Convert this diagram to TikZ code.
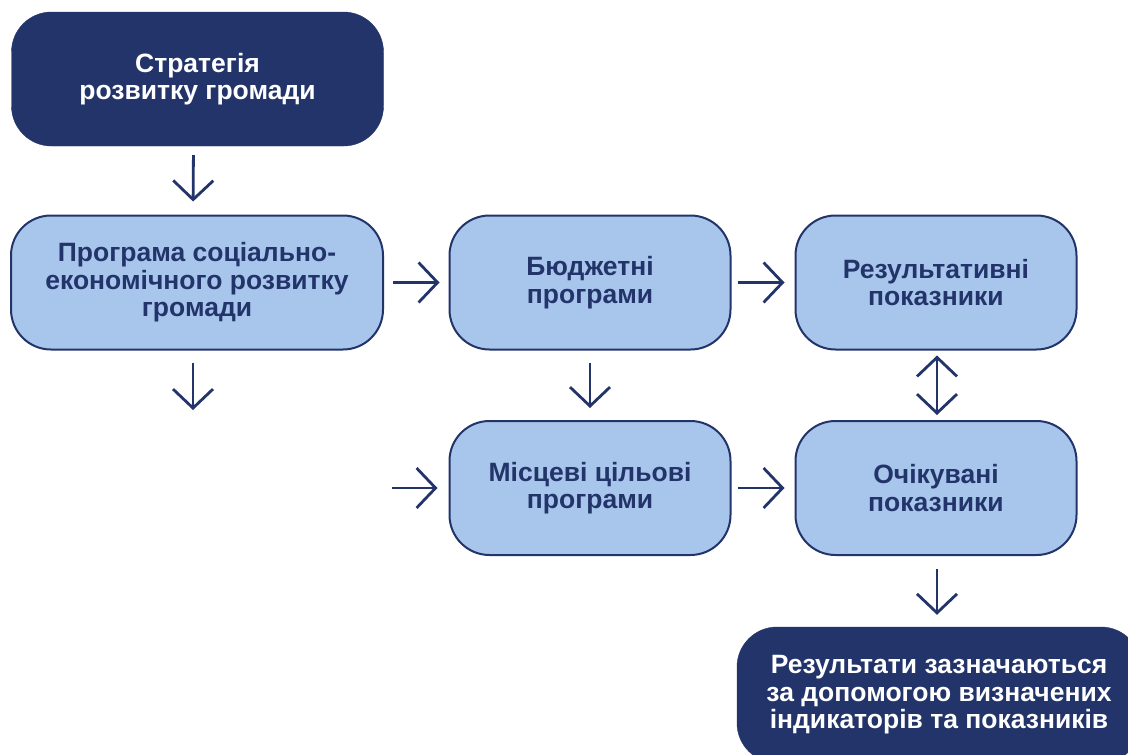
\documentclass[tikz,border=0pt]{standalone}
\usepackage{fontspec}
\setmainfont{Liberation Sans}
\usetikzlibrary{arrows.meta}
\definecolor{navy}{HTML}{22346A}
\definecolor{lightblue}{HTML}{A8C6EC}
\begin{document}
\begin{tikzpicture}[x=1pt,y=-1pt,
  box/.style={rectangle, rounded corners=40pt, minimum width=372pt, minimum height=134pt,
    align=center, inner sep=0pt, font=\fontsize{26.5}{27.5}\selectfont\bfseries},
  darkbox/.style={box, fill=navy, draw=navy, text=white},
  lightbox/.style={box, fill=lightblue, draw=navy, line width=2pt, text=navy},
  narrow/.style={minimum width=281pt},
  arr/.style={draw=navy, line width=2.8pt, -{Straight Barb[length=19pt,width=40pt]}},
  darr/.style={draw=navy, line width=2.8pt, {Straight Barb[length=19pt,width=40pt]}-{Straight Barb[length=19pt,width=40pt]}}
]
\useasboundingbox (0,0) rectangle (1128,755);
\clip (0,0) rectangle (1128,755);
\fill[white] (0,0) rectangle (1128,755);

\node[darkbox] (strat) at (197.5,79) {Стратегія\\розвитку громади};
\node[lightbox] (prog) at (197,282.5) {Програма соціально-\\економічного розвитку\\громади};
\node[lightbox, narrow] (budget) at (590,282.5) {Бюджетні\\програми};
\node[lightbox, narrow] (result) at (936,282.5) {Результативні\\показники};
\node[lightbox, narrow] (local) at (590,488) {Місцеві цільові\\програми};
\node[lightbox, narrow] (expect) at (936,488) {Очікувані\\показники};
\node[darkbox, minimum width=404pt, minimum height=136pt] (final) at (939,695) {Результати зазначаються\\за допомогою визначених\\індикаторів та показників};

\coordinate (progout) at (193,410);
\coordinate (localin) at (392,488);

\draw[arr, shorten <=9pt, shorten >=13pt] ([xshift=-4pt]strat.south) -- ([xshift=-4pt]prog.north);
\draw[arr, shorten <=12pt] ([xshift=-4pt]prog.south) -- (progout);
\draw[arr, shorten <=9pt, shorten >=9pt] (prog.east) -- (budget.west);
\draw[arr, shorten <=6pt, shorten >=10pt] (budget.east) -- (result.west);
\draw[arr, shorten <=12pt, shorten >=12pt] (budget.south) -- (local.north);
\draw[arr, shorten >=11pt] (localin) -- (local.west);
\draw[arr, shorten <=6pt, shorten >=10pt] (local.east) -- (expect.west);
\draw[darr, shorten <=5pt, shorten >=5pt] ([xshift=1pt]result.south) -- ([xshift=1pt]expect.north);
\draw[arr, shorten <=13pt, shorten >=12pt] ([xshift=1pt]expect.south) -- ([xshift=1pt]final.north -| expect.south);
\end{tikzpicture}
\end{document}
